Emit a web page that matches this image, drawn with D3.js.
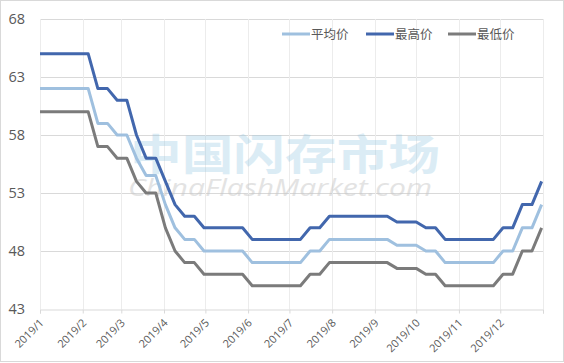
<!DOCTYPE html>
<html>
<head>
<meta charset="utf-8">
<script src="https://cdn.jsdelivr.net/npm/d3@7"></script>
<style>
  html, body { margin: 0; padding: 0; background: #fff; }
  svg { display: block; }
  text { font-family: "Noto Sans CJK SC", "Open Sans", sans-serif; }
</style>
</head>
<body>
<div id="chart"></div>
<script>
// weekly prices, first week starts 2019-01-01
var startDate = '2019-01-01'
var avgPrice = [62, 62, 62, 62, 62, 62, 59, 59, 58, 58, 56, 54.5, 54.5, 52, 50, 49, 49,
  48, 48, 48, 48, 48, 47, 47, 47, 47, 47, 47, 48, 48, 49, 49, 49, 49, 49, 49, 49,
  48.5, 48.5, 48.5, 48, 48, 47, 47, 47, 47, 47, 47, 48, 48, 50, 50, 52]
var maxPrice = [65, 65, 65, 65, 65, 65, 62, 62, 61, 61, 58, 56, 56, 54, 52, 51, 51,
  50, 50, 50, 50, 50, 49, 49, 49, 49, 49, 49, 50, 50, 51, 51, 51, 51, 51, 51, 51,
  50.5, 50.5, 50.5, 50, 50, 49, 49, 49, 49, 49, 49, 50, 50, 52, 52, 54]
var minPrice = [60, 60, 60, 60, 60, 60, 57, 57, 56, 56, 54, 53, 53, 50, 48, 47, 47,
  46, 46, 46, 46, 46, 45, 45, 45, 45, 45, 45, 46, 46, 47, 47, 47, 47, 47, 47, 47,
  46.5, 46.5, 46.5, 46, 46, 45, 45, 45, 45, 45, 45, 46, 46, 48, 48, 50]
var seriesNames = ['平均价', '最高价', '最低价']
var seriesColors = ['#9fc0df', '#4267ad', '#7b7b7b']
var monthLabels = ['2019/1', '2019/2', '2019/3', '2019/4', '2019/5', '2019/6',
  '2019/7', '2019/8', '2019/9', '2019/10', '2019/11', '2019/12', '']
var yTicks = [43, 48, 53, 58, 63, 68]

var width = 564, height = 363
var plotLeft = 40, plotRight = 543, plotTop = 19, plotBottom = 309

var start = new Date(startDate + 'T00:00:00')
var dates = avgPrice.map(function(d, i) { return d3.timeDay.offset(start, 7 * i) })
var monthTicks = d3.timeMonth.range(start, new Date('2020-01-02T00:00:00'))

var x = d3.scaleTime()
  .domain([start, new Date('2020-01-01T00:00:00')])
  .range([plotLeft, plotRight])
var y = d3.scaleLinear().domain([43, 68]).range([plotBottom, plotTop])

var svg = d3.select('#chart').append('svg')
  .attr('width', width)
  .attr('height', height)

svg.append('rect')
  .attr('x', 0.5).attr('y', 0.5)
  .attr('width', width - 1).attr('height', height - 2)
  .attr('fill', '#fff')
  .attr('stroke', '#d9d9d9')

// grid
svg.append('g')
  .selectAll('line')
  .data(yTicks.slice(1))
  .join('line')
  .attr('x1', plotLeft).attr('x2', plotRight)
  .attr('y1', function(d) { return Math.round(y(d)) + 0.5 })
  .attr('y2', function(d) { return Math.round(y(d)) + 0.5 })
  .attr('stroke', '#d9d9d9')

svg.append('g')
  .selectAll('line')
  .data(monthTicks)
  .join('line')
  .attr('x1', function(d) { return Math.round(x(d)) + 0.5 })
  .attr('x2', function(d) { return Math.round(x(d)) + 0.5 })
  .attr('y1', plotTop).attr('y2', plotBottom)
  .attr('stroke', '#ececec')

// watermark
svg.append('text')
  .attr('x', 130).attr('y', 170)
  .attr('textLength', 310)
  .attr('lengthAdjust', 'spacingAndGlyphs')
  .style('font-size', '42px')
  .style('font-weight', 'bold')
  .style('fill', '#8cc3e0')
  .style('opacity', 0.3)
  .text('中国闪存市场')

svg.append('text')
  .attr('x', 128).attr('y', 196)
  .attr('textLength', 304)
  .attr('lengthAdjust', 'spacingAndGlyphs')
  .style('font-family', '"Open Sans", sans-serif')
  .style('font-style', 'italic')
  .style('font-size', '24px')
  .style('fill', '#c8c8c8')
  .style('opacity', 0.5)
  .text('ChinaFlashMarket.com')

// x axis
var xAxis = d3.axisBottom(x)
  .tickValues(monthTicks)
  .tickSize(4)
  .tickFormat(function(d, i) { return monthLabels[i] })

var gx = svg.append('g')
  .attr('transform', 'translate(0,' + (plotBottom + 0.5) + ')')
  .call(xAxis)
gx.select('.domain').attr('stroke', '#d9d9d9')
gx.selectAll('.tick line').attr('stroke', '#d9d9d9')
gx.selectAll('.tick text')
  .attr('fill', '#595959')
  .style('font-family', '"Open Sans", sans-serif')
  .style('font-size', '11px')
  .attr('text-anchor', 'end')
  .attr('dy', null)
  .attr('y', 0)
  .attr('transform', 'translate(4,14) rotate(-45)')

// y axis labels
var gy = svg.append('g')
  .attr('transform', 'translate(' + plotLeft + ',0)')
  .call(d3.axisLeft(y).tickValues(yTicks).tickSize(0).tickPadding(15))
gy.select('.domain').remove()
gy.selectAll('.tick text')
  .attr('fill', '#595959')
  .style('font-family', '"Open Sans", sans-serif')
  .style('font-size', '14.5px')

// lines
var line = d3.line()
  .x(function(d, i) { return x(dates[i]) })
  .y(function(d) { return y(d) })

var allSeries = [avgPrice, maxPrice, minPrice]
svg.append('g')
  .selectAll('path')
  .data(allSeries)
  .join('path')
  .attr('d', line)
  .attr('fill', 'none')
  .attr('stroke', function(d, i) { return seriesColors[i] })
  .attr('stroke-width', 3)
  .attr('stroke-linejoin', 'round')

// legend
var legendX = [282, 366, 448]
var legend = svg.append('g')
  .selectAll('g')
  .data(seriesNames)
  .join('g')
  .attr('transform', function(d, i) { return 'translate(' + legendX[i] + ',34)' })

legend.append('line')
  .attr('x1', 0).attr('x2', 28)
  .attr('stroke', function(d, i) { return seriesColors[i] })
  .attr('stroke-width', 3)

legend.append('text')
  .attr('x', 29)
  .attr('dy', '0.36em')
  .attr('fill', '#595959')
  .style('font-size', '12.5px')
  .text(function(d) { return d })
</script>
</body>
</html>
